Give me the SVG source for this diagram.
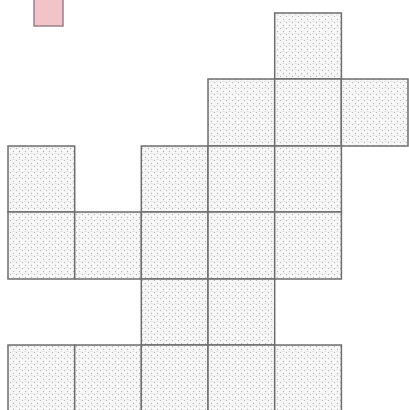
<svg xmlns="http://www.w3.org/2000/svg" width="409" height="410" viewBox="0 0 409 410">
<defs>
<pattern id="dots" width="6" height="6" patternUnits="userSpaceOnUse">
<rect width="6" height="6" fill="#f7f7f7"/>
<circle cx="1.5" cy="1.5" r="0.7" fill="#b8b8b8"/>
<circle cx="4.5" cy="4.5" r="0.7" fill="#b8b8b8"/>
<rect x="0" y="3" width="3" height="0.6" fill="#dedede"/>
</pattern>
</defs>
<style>
.c{fill:url(#dots);stroke:#6e6e6e;stroke-width:1.5}
.p{fill:#f2c4c8;stroke:#9a8088;stroke-width:1.5}
</style>
<rect id="marker" class="p" x="34" y="-5" width="29" height="31"/>
<g id="cells">
<rect id="r0c4" class="c" x="274.7" y="13" width="66.7" height="66"/>
<rect id="r1c3" class="c" x="208" y="79" width="66.7" height="67"/>
<rect id="r1c4" class="c" x="274.7" y="79" width="66.7" height="67"/>
<rect id="r1c5" class="c" x="341.3" y="79" width="66.7" height="67"/>
<rect id="r2c0" class="c" x="8" y="146" width="66.7" height="66"/>
<rect id="r2c2" class="c" x="141.3" y="146" width="66.7" height="66"/>
<rect id="r2c3" class="c" x="208" y="146" width="66.7" height="66"/>
<rect id="r2c4" class="c" x="274.7" y="146" width="66.7" height="66"/>
<rect id="r3c0" class="c" x="8" y="212" width="66.7" height="67"/>
<rect id="r3c1" class="c" x="74.7" y="212" width="66.7" height="67"/>
<rect id="r3c2" class="c" x="141.3" y="212" width="66.7" height="67"/>
<rect id="r3c3" class="c" x="208" y="212" width="66.7" height="67"/>
<rect id="r3c4" class="c" x="274.7" y="212" width="66.7" height="67"/>
<rect id="r4c2" class="c" x="141.3" y="279" width="66.7" height="66"/>
<rect id="r4c3" class="c" x="208" y="279" width="66.7" height="66"/>
<rect id="r5c0" class="c" x="8" y="345" width="66.7" height="67"/>
<rect id="r5c1" class="c" x="74.7" y="345" width="66.7" height="67"/>
<rect id="r5c2" class="c" x="141.3" y="345" width="66.7" height="67"/>
<rect id="r5c3" class="c" x="208" y="345" width="66.7" height="67"/>
<rect id="r5c4" class="c" x="274.7" y="345" width="66.7" height="67"/>
</g>
</svg>
